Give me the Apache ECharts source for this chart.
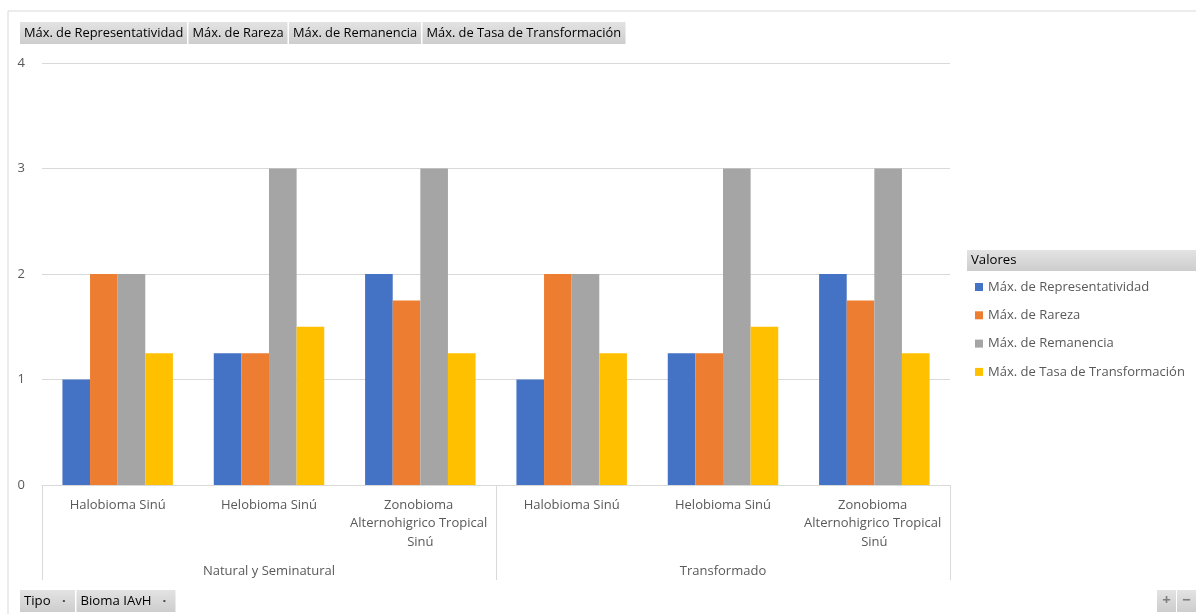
<!DOCTYPE html>
<html>
<head>
<meta charset="utf-8">
<script src="https://cdn.jsdelivr.net/npm/echarts@6/dist/echarts.min.js"></script>
<style>
  html, body { margin: 0; padding: 0; background: #ffffff; }
  #chart { width: 1196px; height: 614px; }
</style>
</head>
<body>
<div id="chart"></div>
<script>
// Pivot chart: maximum indicator scores per biome, grouped by land-cover type
const biomas = ['Halobioma Sinú', 'Helobioma Sinú', 'Zonobioma Alternohigrico Tropical Sinú'];
const tipos = ['Natural y Seminatural', 'Transformado'];
const seriesNames = [
  'Máx. de Representatividad',
  'Máx. de Rareza',
  'Máx. de Remanencia',
  'Máx. de Tasa de Transformación'
];
// one value per (tipo, bioma) pair, in the same order as the category axis
const representatividad = [1, 1.25, 2, 1, 1.25, 2];
const rareza = [2, 1.25, 1.75, 2, 1.25, 1.75];
const remanencia = [2, 3, 3, 2, 3, 3];
const tasaTransformacion = [1.25, 1.5, 1.25, 1.25, 1.5, 1.25];
const yTicks = [0, 1, 2, 3, 4];
const filterFields = ['Tipo', 'Bioma IAvH'];
const legendTitle = 'Valores';

const colors = ['#4472C4', '#ED7D31', '#A5A5A5', '#FFC000'];
const FONT = 'Open Sans';
const values = [representatividad, rareza, remanencia, tasaTransformacion];

// category axis: every biome repeated under each tipo
const categories = [];
tipos.forEach(() => biomas.forEach(b => categories.push(b)));

const chart = echarts.init(document.getElementById('chart'), null, { renderer: 'canvas' });

// measure text so the pivot field buttons hug their captions
const ctx = document.createElement('canvas').getContext('2d');
function textW(t, size) {
  ctx.font = size + 'px "' + FONT + '"';
  return ctx.measureText(t).width;
}

const btnFill = {
  type: 'linear', x: 0, y: 0, x2: 0, y2: 1,
  colorStops: [{ offset: 0, color: '#e3e3e3' }, { offset: 1, color: '#cdcdcd' }]
};

// a row of grey field buttons; dropdown buttons get a small marker on the right
function buttonRow(labels, x0, y0, h, pad, size, dropdown) {
  const els = [];
  let x = x0;
  labels.forEach(lbl => {
    const w = Math.round(textW(lbl, size) + pad * 2 + (dropdown ? 20 : 0));
    els.push({
      type: 'rect', shape: { x: x, y: y0, width: w, height: h },
      style: { fill: btnFill }, silent: true
    });
    els.push({
      type: 'text', x: x + pad, y: y0 + h / 2,
      style: { text: lbl, fill: '#000000', font: size + 'px "' + FONT + '"', textVerticalAlign: 'middle' },
      silent: true
    });
    if (dropdown) {
      els.push({
        type: 'text', x: x + w - 11, y: y0 + h / 2,
        style: { text: '·', fill: '#404040', font: 'bold ' + size + 'px "' + FONT + '"', textAlign: 'center', textVerticalAlign: 'middle' },
        silent: true
      });
    }
    x += w + 1.5;
  });
  return els;
}

const graphics = [];
// chart frame (top and left edges)
graphics.push({
  type: 'polyline', shape: { points: [[8, 614], [8, 11], [1196, 11]] },
  style: { stroke: '#d9d9d9', lineWidth: 1, fill: null }, silent: true
});
// value field buttons
graphics.push(...buttonRow(seriesNames, 20, 22, 22, 4, 12.85, false));
// axis field buttons
graphics.push(...buttonRow(filterFields, 20, 590, 22, 4, 13.2, true));
// legend header
graphics.push({
  type: 'rect', shape: { x: 967, y: 250, width: 229, height: 21 },
  style: { fill: btnFill }, silent: true
});
graphics.push({
  type: 'text', x: 971, y: 260.5,
  style: { text: legendTitle, fill: '#000000', font: '13.2px "' + FONT + '"', textVerticalAlign: 'middle' },
  silent: true
});
// zoom buttons
[['+', 1157], ['−', 1177]].forEach(([s, x]) => {
  graphics.push({
    type: 'rect', shape: { x: x, y: 590, width: 19, height: 22 },
    style: { fill: btnFill }, silent: true
  });
  graphics.push({
    type: 'text', x: x + 9.5, y: 601,
    style: { text: s, fill: '#7f7f7f', font: 'bold 15px "' + FONT + '"', textAlign: 'center', textVerticalAlign: 'middle' },
    silent: true
  });
});

const option = {
  animation: false,
  backgroundColor: '#ffffff',
  color: colors,
  textStyle: { fontFamily: FONT },
  grid: { left: 42, right: 246, top: 63, bottom: 129, containLabel: false },
  legend: {
    orient: 'vertical',
    left: 970,
    top: 275,
    icon: 'rect',
    itemWidth: 8,
    itemHeight: 8,
    itemGap: 14.3,
    textStyle: { color: '#595959', fontSize: 13, fontFamily: FONT, lineHeight: 14 },
    data: seriesNames
  },
  xAxis: [
    {
      type: 'category',
      data: categories,
      position: 'bottom',
      axisLine: { show: true, lineStyle: { color: '#d9d9d9', width: 1 } },
      axisTick: { show: false },
      axisLabel: {
        interval: 0,
        color: '#595959',
        fontSize: 13,
        fontFamily: FONT,
        lineHeight: 18.5,
        margin: 11,
        width: 142,
        overflow: 'break',
        align: 'center'
      }
    },
    {
      type: 'category',
      data: tipos,
      position: 'bottom',
      axisLine: { show: false },
      axisTick: { show: true, interval: 0, length: 95, lineStyle: { color: '#d9d9d9', width: 1 } },
      axisLabel: { interval: 0, color: '#595959', fontSize: 13, fontFamily: FONT, margin: 80 },
      splitLine: { show: false }
    }
  ],
  yAxis: {
    type: 'value',
    min: yTicks[0],
    max: yTicks[yTicks.length - 1],
    interval: 1,
    axisLine: { show: false },
    axisTick: { show: false },
    axisLabel: { color: '#595959', fontSize: 13, fontFamily: FONT, margin: 17 },
    splitLine: { lineStyle: { color: '#d9d9d9', width: 1 } }
  },
  series: seriesNames.map((name, i) => ({
    name: name,
    type: 'bar',
    xAxisIndex: 0,
    data: values[i],
    barGap: '0%',
    barCategoryGap: '27%',
    itemStyle: { color: colors[i] }
  })),
  graphic: graphics
};

chart.setOption(option);
</script>
</body>
</html>
